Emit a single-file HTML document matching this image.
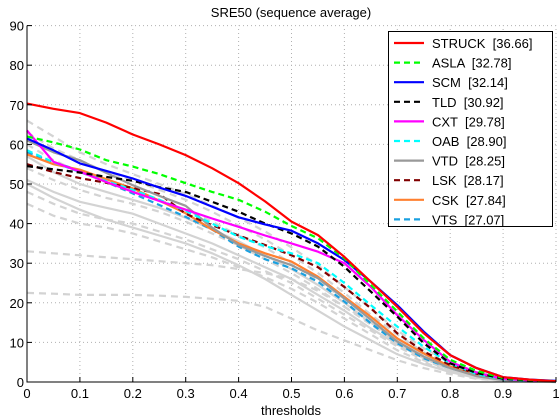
<!DOCTYPE html>
<html><head><meta charset="utf-8"><style>
body{margin:0;background:#fff;}
svg{display:block;font-family:"Liberation Sans",sans-serif;}
</style></head><body>
<svg id="chart" width="560" height="420" viewBox="0 0 560 420" xmlns="http://www.w3.org/2000/svg">
<text x="291" y="17" font-size="13" text-anchor="middle">SRE50 (sequence average)</text>
<text x="291" y="415" font-size="13" text-anchor="middle">thresholds</text>
<g id="grid"></g>
<g id="gray"></g>
<g id="series"></g>
<g id="axes"></g>
<g id="legend"></g>
</svg>
<script>
const thresholds=[0,0.05,0.1,0.15,0.2,0.25,0.3,0.35,0.4,0.45,0.5,0.55,0.6,0.65,0.7,0.75,0.8,0.85,0.9,0.95,1];
const xTicks=[0,0.1,0.2,0.3,0.4,0.5,0.6,0.7,0.8,0.9,1];
const yTicks=[0,10,20,30,40,50,60,70,80,90];
const names=["STRUCK","ASLA","SCM","TLD","CXT","OAB","VTD","LSK","CSK","VTS"];
const scores=["36.66","32.78","32.14","30.92","29.78","28.90","28.25","28.17","27.84","27.07"];
const colors=["#ff0000","#00ff00","#0000ff","#000000","#ff00ff","#00ffff","#999999","#800000","#ff8030","#1aa0e0"];
const dashed=[false,true,false,true,false,true,false,true,false,true];
const sSTRUCK=[70.3,69,67.9,65.5,62.5,60,57.3,54,50.2,45.6,40.5,37.1,31.6,25.3,19,12.3,6.8,3.5,1.2,0.6,0.2];
const sASLA=[62,60.5,58.7,56,54.4,52.5,50.2,48,46,43,39.4,36.3,31.2,24.5,17.8,11,5.6,2.8,1,0.5,0.2];
const sSCM=[61.5,58.5,55.2,53.3,51.4,49.1,47,44.3,41.6,39.8,38.2,35,30.8,25.3,19.4,12.7,6.8,3.5,1.2,0.6,0.3];
const sTLD=[54.5,53.7,52.9,51.8,50.8,49.2,48,45.5,43,40,37.5,34.2,29.1,22.8,16.5,9.8,4.7,2.3,0.8,0.4,0.2];
const sCXT=[63.5,55.6,53.1,50.5,48,45.7,43.5,41.3,39.2,37,35,32.9,30,24,16.9,10.6,5.1,2.4,0.8,0.4,0.2];
const sOAB=[58.5,55.5,53,50.7,48.5,46,43.2,40,36.7,34.3,32.5,30,25,19.4,14,8.9,4.7,2,0.7,0.3,0.1];
const sVTD=[61,58,56,52.8,49.7,47,44.5,39,34.6,31.8,29.5,26.2,21.1,15.7,10.2,6.4,3.5,1.5,0.5,0.2,0.1];
const sLSK=[55,53,51.5,50.3,49,47.5,42.5,39.6,37,34.6,32,29,24,18.6,12.3,7.7,4.3,2.1,0.7,0.3,0.1];
const sCSK=[57.5,55,53.6,51.2,48.9,45.8,42.6,38.5,35,32.5,30.4,26.6,21.5,16.5,11,7.2,3.9,1.9,0.6,0.2,0.1];
const sVTS=[58,55.5,53.4,50.5,47.6,44.7,41.7,38.5,34.2,31,28.7,25.3,20.3,14.8,9.8,6,3.5,1.7,0.5,0.2,0.1];
const seriesValues=[sSTRUCK,sASLA,sSCM,sTLD,sCXT,sOAB,sVTD,sLSK,sCSK,sVTS];
const g1=[66,62,58,55,52.5,50,47.5,44.5,41.5,38,34,29.5,24,18.5,13,8.5,5,2.5,1,0.4,0.1];
const g2=[63,59,56,53,51,48.5,46,43,39.5,36,32,27.5,22.5,17,12,7.5,4.5,2,0.8,0.3,0.1];
const g3=[60,56,53,50.5,48.5,46,43.5,40.5,37,34,30,25.5,21,16,11,7,4,1.8,0.6,0.2,0.1];
const g4=[57,53,50,48,46,44,41.5,38.5,35.5,32,28.5,24.5,20,15,10.5,6.5,3.5,1.5,0.5,0.2,0.1];
const g5=[54,51,48.5,46.5,45,43,40.5,37.5,34.5,31,27.5,23.5,19,14.5,10,6,3.5,1.5,0.5,0.2,0.1];
const g6=[51,48,45.5,44,42.5,40,37.5,35,32,29,26,22,18,13.5,9.5,6,3,1.3,0.4,0.2,0.1];
const g7=[48,45,42.5,41,40,38,36,33.5,31,28,25,21,17,13,9,5.5,3,1.2,0.4,0.1,0];
const g8=[45,42,40,39,37.5,35.5,33.5,31.5,29,26.5,23.5,20,16,12,8,5,2.5,1,0.3,0.1,0];
const g9=[33,32.5,32,31.5,31,30.5,30,29.5,28.5,27.5,26,23,19,15,11,7,4,1.8,0.5,0.2,0];
const g10=[22.5,22.3,22,22,22,21.8,21.5,21,20.5,19,16,13,10.5,8,5.5,3.5,2,0.8,0.3,0.1,0];
const g11=[50,46.5,43.5,41,39,37,35,32.5,29.5,26,22,18,14,10.5,7,4.5,2.5,1,0.3,0.1,0];
const grayValues=[g1,g2,g3,g4,g5,g6,g7,g8,g9,g10,g11];
const grayDashed=[true,true,true,false,true,false,true,true,true,true,false];

const NS="http://www.w3.org/2000/svg";
const X0=27,X1=556,Y0=382,Y1=25.6;
function sx(v){return X0+(X1-X0)*v;}
function sy(v){return Y0-(Y0-Y1)*v/90;}
function mk(tag,attrs,parent){const e=document.createElementNS(NS,tag);for(const k in attrs)e.setAttribute(k,attrs[k]);parent.appendChild(e);return e;}
const grid=document.getElementById('grid'),axes=document.getElementById('axes');
xTicks.forEach(t=>{
  const l=mk('line',{x1:sx(t),x2:sx(t),y1:Y0,y2:Y1,stroke:'#b0b0b0','stroke-dasharray':'1,3','stroke-width':1},grid);
  
  
  const tk=mk('line',{x1:sx(t),x2:sx(t),y1:Y0,y2:Y0-5,stroke:'#000'},axes);
  
  
  const tx=mk('text',{x:sx(t),y:398,'font-size':13,'text-anchor':'middle'},axes);
  tx.textContent=String(t);
  
  
});
yTicks.forEach(t=>{
  const l=mk('line',{x1:X0,x2:X1,y1:sy(t),y2:sy(t),stroke:'#b0b0b0','stroke-dasharray':'1,3','stroke-width':1},grid);
  
  
  const tk=mk('line',{x1:X0,x2:X0+5,y1:sy(t),y2:sy(t),stroke:'#000'},axes);
  
  
  const tx=mk('text',{x:X0-3,y:sy(t)+5,'font-size':13,'text-anchor':'end'},axes);
  tx.textContent=String(t);
  
  
});
const ax=mk('path',{d:`M${X0},${Y1}V${Y0}H${X1}`,fill:'none',stroke:'#000','stroke-width':1},axes);


function pts(vals){return vals.map((v,i)=>sx(thresholds[i]).toFixed(1)+','+sy(v).toFixed(1)).join(' ');}
const gg=document.getElementById('gray');
grayValues.forEach((vals,i)=>{
  const p=mk('polyline',{points:pts(vals),fill:'none',stroke:'#d3d3d3','stroke-width':2.2},gg);
  if(grayDashed[i])p.setAttribute('stroke-dasharray','7,5');
  
  
});
const sg=document.getElementById('series');
for(let i=seriesValues.length-1;i>=0;i--){
  const p=mk('polyline',{points:pts(seriesValues[i]),fill:'none',stroke:colors[i],'stroke-width':2.2,'stroke-linejoin':'round'},sg);
  if(dashed[i])p.setAttribute('stroke-dasharray','6,4');
  
  
}
const lg=document.getElementById('legend');
const box=mk('rect',{x:388.5,y:31.5,width:164,height:195,fill:'#fff',stroke:'#000','stroke-width':1},lg);


names.forEach((n,i)=>{
  const y=43+i*19.6;
  const l=mk('line',{x1:394,x2:424,y1:y,y2:y,stroke:colors[i],'stroke-width':2.2},lg);
  if(dashed[i])l.setAttribute('stroke-dasharray','6,4');
  
  
  const t=mk('text',{x:432,y:y+5,'font-size':13},lg);
  t.textContent=n+'  ['+scores[i]+']';
  t.style.whiteSpace='pre';
  
  
});
</script>
</body></html>
